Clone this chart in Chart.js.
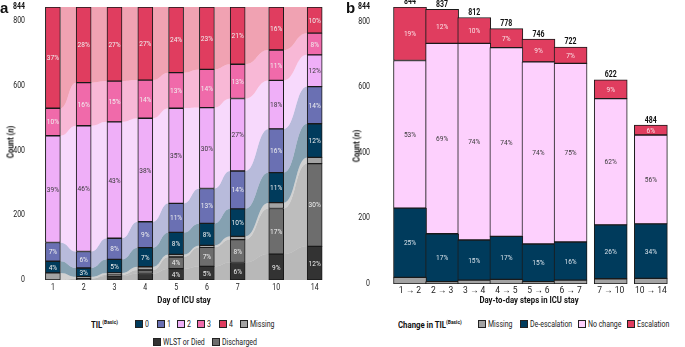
<!DOCTYPE html>
<html lang="en">
<head>
<meta charset="UTF-8">
<title>TIL(Basic) over ICU stay</title>
<script src="https://cdn.jsdelivr.net/npm/chart.js"></script>
<style>
  body { margin: 0; width: 685px; height: 347px; position: relative; overflow: hidden; background: #fff;
         font-family: Roboto, sans-serif; color: #111; }
  canvas { position: absolute; top: 0; }
  #chartA { left: 0; }
  #chartB { left: 345px; }
  .abs { position: absolute; white-space: nowrap; }
  .panel { font-family: 'Liberation Sans', Arial, sans-serif; font-weight: bold; font-size: 15px; line-height: 1; }
  .ytitle { font-weight: bold; font-size: 9.5px; transform: translate(-50%, -50%) rotate(-90deg) scaleX(0.82); }
  .leg { font-size: 8.5px; transform: translateY(-50%); display: flex; align-items: center; color: #222; }
  .leg .t { display: inline-block; transform: scaleX(0.82); transform-origin: left center; }
  .legtitle { font-weight: bold; font-size: 9.5px; color: #111; }
  .legtitle sup { font-size: 6px; vertical-align: 4px; }
  .box { width: 8px; height: 8px; border: 1px solid #222; box-sizing: border-box; margin-right: 2px; flex: none; }
</style>
</head>
<body>
<canvas id="chartA" width="345" height="310"></canvas>
<canvas id="chartB" width="340" height="310"></canvas>

<div class="abs panel" style="left:0px;top:0px">a</div>
<div class="abs panel" style="left:346px;top:0px">b</div>
<div class="abs ytitle" style="left:10px;top:142px">Count (<i>n</i>)</div>
<div class="abs ytitle" style="left:356px;top:146px">Count (<i>n</i>)</div>
<div class="abs leg legtitle" style="left:91px;top:324px"><span class="t">TIL<sup>(Basic)</sup></span></div>
<div class="abs leg legtitle" style="left:398px;top:324px"><span class="t">Change in TIL<sup>(Basic)</sup></span></div>
<div id="legends"></div>

<script>
// ---- panel a: TIL(Basic) per day of ICU stay (n = 844) ----
const days = ['1', '2', '3', '4', '5', '6', '7', '10', '14'];
const dayPos = [1, 2, 3, 4, 5, 6, 7, 8.25, 9.5];   // wider gap before days 10 and 14

const wlst       = [0, 4, 12, 20, 35, 42, 54, 80, 104];
const discharged = [0, 0, 4, 11, 36, 59, 71, 141, 256];
const missing    = [22, 6, 6, 10, 8, 6, 10, 18, 19];
const til0       = [36, 27, 42, 59, 68, 68, 85, 93, 104];
const til1       = [58, 51, 65, 80, 90, 108, 117, 135, 115];
const til2       = [330, 389, 360, 320, 294, 250, 224, 150, 98];
const til3       = [85, 133, 126, 118, 110, 118, 106, 94, 67];
const til4       = [313, 234, 229, 226, 203, 193, 177, 133, 81];

// ---- panel b: day-to-day change in TIL(Basic) ----
const steps = ['1 \u2192 2', '2 \u2192 3', '3 \u2192 4', '4 \u2192 5', '5 \u2192 6', '6 \u2192 7', '7 \u2192 10', '10 \u2192 14'];
const stepPos = [1, 2, 3, 4, 5, 6, 7.25, 8.5];
const chMissing  = [20, 7, 12, 14, 7, 12, 16, 17];
const chDeesc    = [211, 146, 122, 131, 115, 116, 164, 166];
const chNoChange = [450, 580, 599, 575, 555, 544, 385, 271];
const chEsc      = [163, 104, 79, 58, 69, 50, 57, 30];

const yTicks = [0, 200, 400, 600, 800, 844];

const FONT = 'Roboto, sans-serif';
const NARROW = 0.82;   // no condensed face installed, squeeze Roboto instead
Chart.defaults.font.family = FONT;

const C = {
  wlst: '#333333', discharged: '#6d6d6d', missing: '#a3a3a3',
  t0: '#003b5c', t1: '#6a70b3', t2: '#efaff8', t3: '#f06aaa', t4: '#e03d5f',
  nochange: '#fdd0fd'
};
const LIGHT = '#f0f0f0', DARK = '#3a3a3a';
const BAR_A = 15, BAR_B = 33;

function fade(hex, a) {
  const n = parseInt(hex.slice(1), 16);
  return `rgba(${n >> 16}, ${(n >> 8) & 255}, ${n & 255}, ${a})`;
}

function narrowText(ctx, text, x, y, align, sx = NARROW) {
  ctx.save();
  ctx.translate(x, y);
  ctx.scale(sx, 1);
  ctx.textAlign = align;
  ctx.fillText(text, 0, 0);
  ctx.restore();
}

// stacked bottom -> top
const strata = [
  { label: 'WLST or Died', data: wlst, color: C.wlst, text: LIGHT, flow: 0.35 },
  { label: 'Discharged', data: discharged, color: C.discharged, text: LIGHT, flow: 0.45 },
  { label: 'Missing', data: missing, color: C.missing, text: null, flow: 0.5 },
  { label: '0', data: til0, color: C.t0, text: LIGHT, flow: 0.48 },
  { label: '1', data: til1, color: C.t1, text: LIGHT, flow: 0.48 },
  { label: '2', data: til2, color: C.t2, text: DARK, flow: 0.48 },
  { label: '3', data: til3, color: C.t3, text: LIGHT, flow: 0.48 },
  { label: '4', data: til4, color: C.t4, text: LIGHT, flow: 0.48 }
];
const changes = [
  { label: 'Missing', data: chMissing, color: C.missing, text: null },
  { label: 'De-escalation', data: chDeesc, color: C.t0, text: '#d8e2ea' },
  { label: 'No change', data: chNoChange, color: C.nochange, text: DARK },
  { label: 'Escalation', data: chEsc, color: C.t4, text: '#fbe3e8' }
];
const dayTotals = days.map((d, i) => strata.reduce((s, st) => s + st.data[i], 0));
const stepTotals = steps.map((d, i) => changes.reduce((s, st) => s + st.data[i], 0));

// ribbons between consecutive days, one per stratum
const flowPlugin = {
  id: 'flows',
  beforeDatasetsDraw(chart) {
    const { ctx, scales: { x, y } } = chart;
    const half = BAR_A / 2;
    ctx.save();
    for (let i = 0; i < days.length - 1; i++) {
      const x0 = x.getPixelForValue(dayPos[i]) + half;
      const x1 = x.getPixelForValue(dayPos[i + 1]) - half;
      const xm = (x0 + x1) / 2;
      let c0 = 0, c1 = 0;
      strata.forEach(s => {
        const a0 = y.getPixelForValue(c0), a1 = y.getPixelForValue(c1);
        c0 += s.data[i]; c1 += s.data[i + 1];
        const b0 = y.getPixelForValue(c0), b1 = y.getPixelForValue(c1);
        ctx.beginPath();
        ctx.moveTo(x0, a0);
        ctx.bezierCurveTo(xm, a0, xm, a1, x1, a1);
        ctx.lineTo(x1, b1);
        ctx.bezierCurveTo(xm, b1, xm, b0, x0, b0);
        ctx.closePath();
        ctx.fillStyle = fade(s.color, s.flow);
        ctx.fill();
      });
    }
    ctx.restore();
  }
};

// percentage labels inside segments (+ totals on top for panel b)
const segLabels = {
  id: 'segLabels',
  afterDatasetsDraw(chart, args, opts) {
    const { ctx } = chart;
    ctx.save();
    ctx.textBaseline = 'middle';
    ctx.font = '8px ' + FONT;
    const tops = [];
    chart.data.datasets.forEach((ds, di) => {
      chart.getDatasetMeta(di).data.forEach((bar, i) => {
        const pt = ds.data[i];
        if (!pt || !pt.y) return;
        tops[i] = Math.min(tops[i] ?? Infinity, bar.y);
        if (!ds.textColor) return;
        if (Math.abs(bar.base - bar.y) < 8) return;
        ctx.fillStyle = ds.textColor;
        narrowText(ctx, Math.round(pt.y / opts.totals[i] * 100) + '%', bar.x, (bar.y + bar.base) / 2 + 0.5, 'center');
      });
    });
    if (opts.showTotals) {
      ctx.font = 'bold 8.5px ' + FONT;
      ctx.fillStyle = '#111';
      ctx.textBaseline = 'bottom';
      chart.getDatasetMeta(0).data.forEach((bar, i) =>
        narrowText(ctx, String(opts.totals[i]), bar.x, tops[i] - 0.5, 'center'));
    }
    ctx.restore();
  }
};

// tick labels and x title, squeezed to look condensed
const axisText = {
  id: 'axisText',
  afterDraw(chart, args, opts) {
    const { ctx, chartArea: area, scales: { x, y } } = chart;
    ctx.save();
    ctx.textBaseline = 'middle';
    yTicks.forEach(v => {
      ctx.font = (v === 844 ? 'bold ' : '') + '8.5px ' + FONT;
      ctx.fillStyle = v === 844 ? '#111' : '#222';
      narrowText(ctx, String(v), area.left - 3, y.getPixelForValue(v), 'right');
    });
    ctx.font = '8.5px ' + FONT;
    ctx.fillStyle = '#222';
    opts.pos.forEach((p, i) =>
      narrowText(ctx, opts.labels[i], x.getPixelForValue(p), area.bottom + opts.tickGap, 'center', opts.tickScale));
    ctx.font = 'bold 9.5px ' + FONT;
    ctx.fillStyle = '#111';
    narrowText(ctx, opts.title, (area.left + area.right) / 2, opts.titleY, 'center');
    ctx.restore();
  }
};

function makeDatasets(list, pos, thickness) {
  return list.map(s => ({
    label: s.label,
    data: s.data.map((v, i) => ({ x: pos[i], y: v || null })),
    backgroundColor: s.color,
    borderColor: '#1a1a1a',
    borderWidth: 1,
    borderSkipped: false,
    barThickness: thickness,
    textColor: s.text
  }));
}

function axes(pos, min, max, xHeight) {
  return {
    x: {
      type: 'linear', stacked: true, min: min, max: max,
      grid: { display: false, drawTicks: false }, border: { display: false },
      afterBuildTicks: ax => { ax.ticks = pos.map(v => ({ value: v })); },
      afterFit: ax => { ax.height = xHeight; },
      ticks: { display: false }
    },
    y: {
      stacked: true, min: 0, max: 844,
      grid: { display: false, drawTicks: false }, border: { display: false },
      afterBuildTicks: ax => { ax.ticks = yTicks.map(v => ({ value: v })); },
      afterFit: ax => { ax.width = 28; },
      ticks: { display: false }
    }
  };
}

new Chart(document.getElementById('chartA'), {
  type: 'bar',
  data: { datasets: makeDatasets(strata, dayPos, BAR_A) },
  options: {
    responsive: false, animation: false, devicePixelRatio: 1,
    layout: { padding: { top: 7, right: 5, left: 0, bottom: 0 } },
    plugins: {
      legend: { display: false }, tooltip: { enabled: false },
      segLabels: { totals: dayTotals, showTotals: false },
      axisText: { pos: dayPos, labels: days, tickGap: 8, tickScale: NARROW, title: 'Day of ICU stay', titleY: 301 }
    },
    scales: axes(dayPos, 0.755, 9.759, 30)
  },
  plugins: [flowPlugin, segLabels, axisText]
});

new Chart(document.getElementById('chartB'), {
  type: 'bar',
  data: { datasets: makeDatasets(changes, stepPos, BAR_B) },
  options: {
    responsive: false, animation: false, devicePixelRatio: 1,
    layout: { padding: { top: 7, right: 0, left: 0, bottom: 0 } },
    plugins: {
      legend: { display: false }, tooltip: { enabled: false },
      segLabels: { totals: stepTotals, showTotals: true },
      axisText: { pos: stepPos, labels: steps, tickGap: 7, tickScale: 1, title: 'Day-to-day steps in ICU stay', titleY: 301 }
    },
    scales: axes(stepPos, 0.455, 8.956, 26)
  },
  plugins: [segLabels, axisText]
});

// legends (html so the superscripts stay real text)
const legendItems = [
  ['0', C.t0, 135, 324], ['1', C.t1, 157, 324], ['2', C.t2, 177, 324], ['3', C.t3, 197, 324],
  ['4', C.t4, 219, 324], ['Missing', C.missing, 240, 324],
  ['WLST or Died', C.wlst, 153, 342], ['Discharged', C.discharged, 212, 342],
  ['Missing', C.missing, 478, 324], ['De-escalation', C.t0, 520, 324],
  ['No change', C.nochange, 578, 324], ['Escalation', C.t4, 627, 324]
];
document.getElementById('legends').innerHTML = legendItems.map(([t, col, l, tp]) =>
  `<div class="abs leg" style="left:${l}px;top:${tp}px"><span class="box" style="background:${col}"></span><span class="t">${t}</span></div>`
).join('');
</script>
</body>
</html>
